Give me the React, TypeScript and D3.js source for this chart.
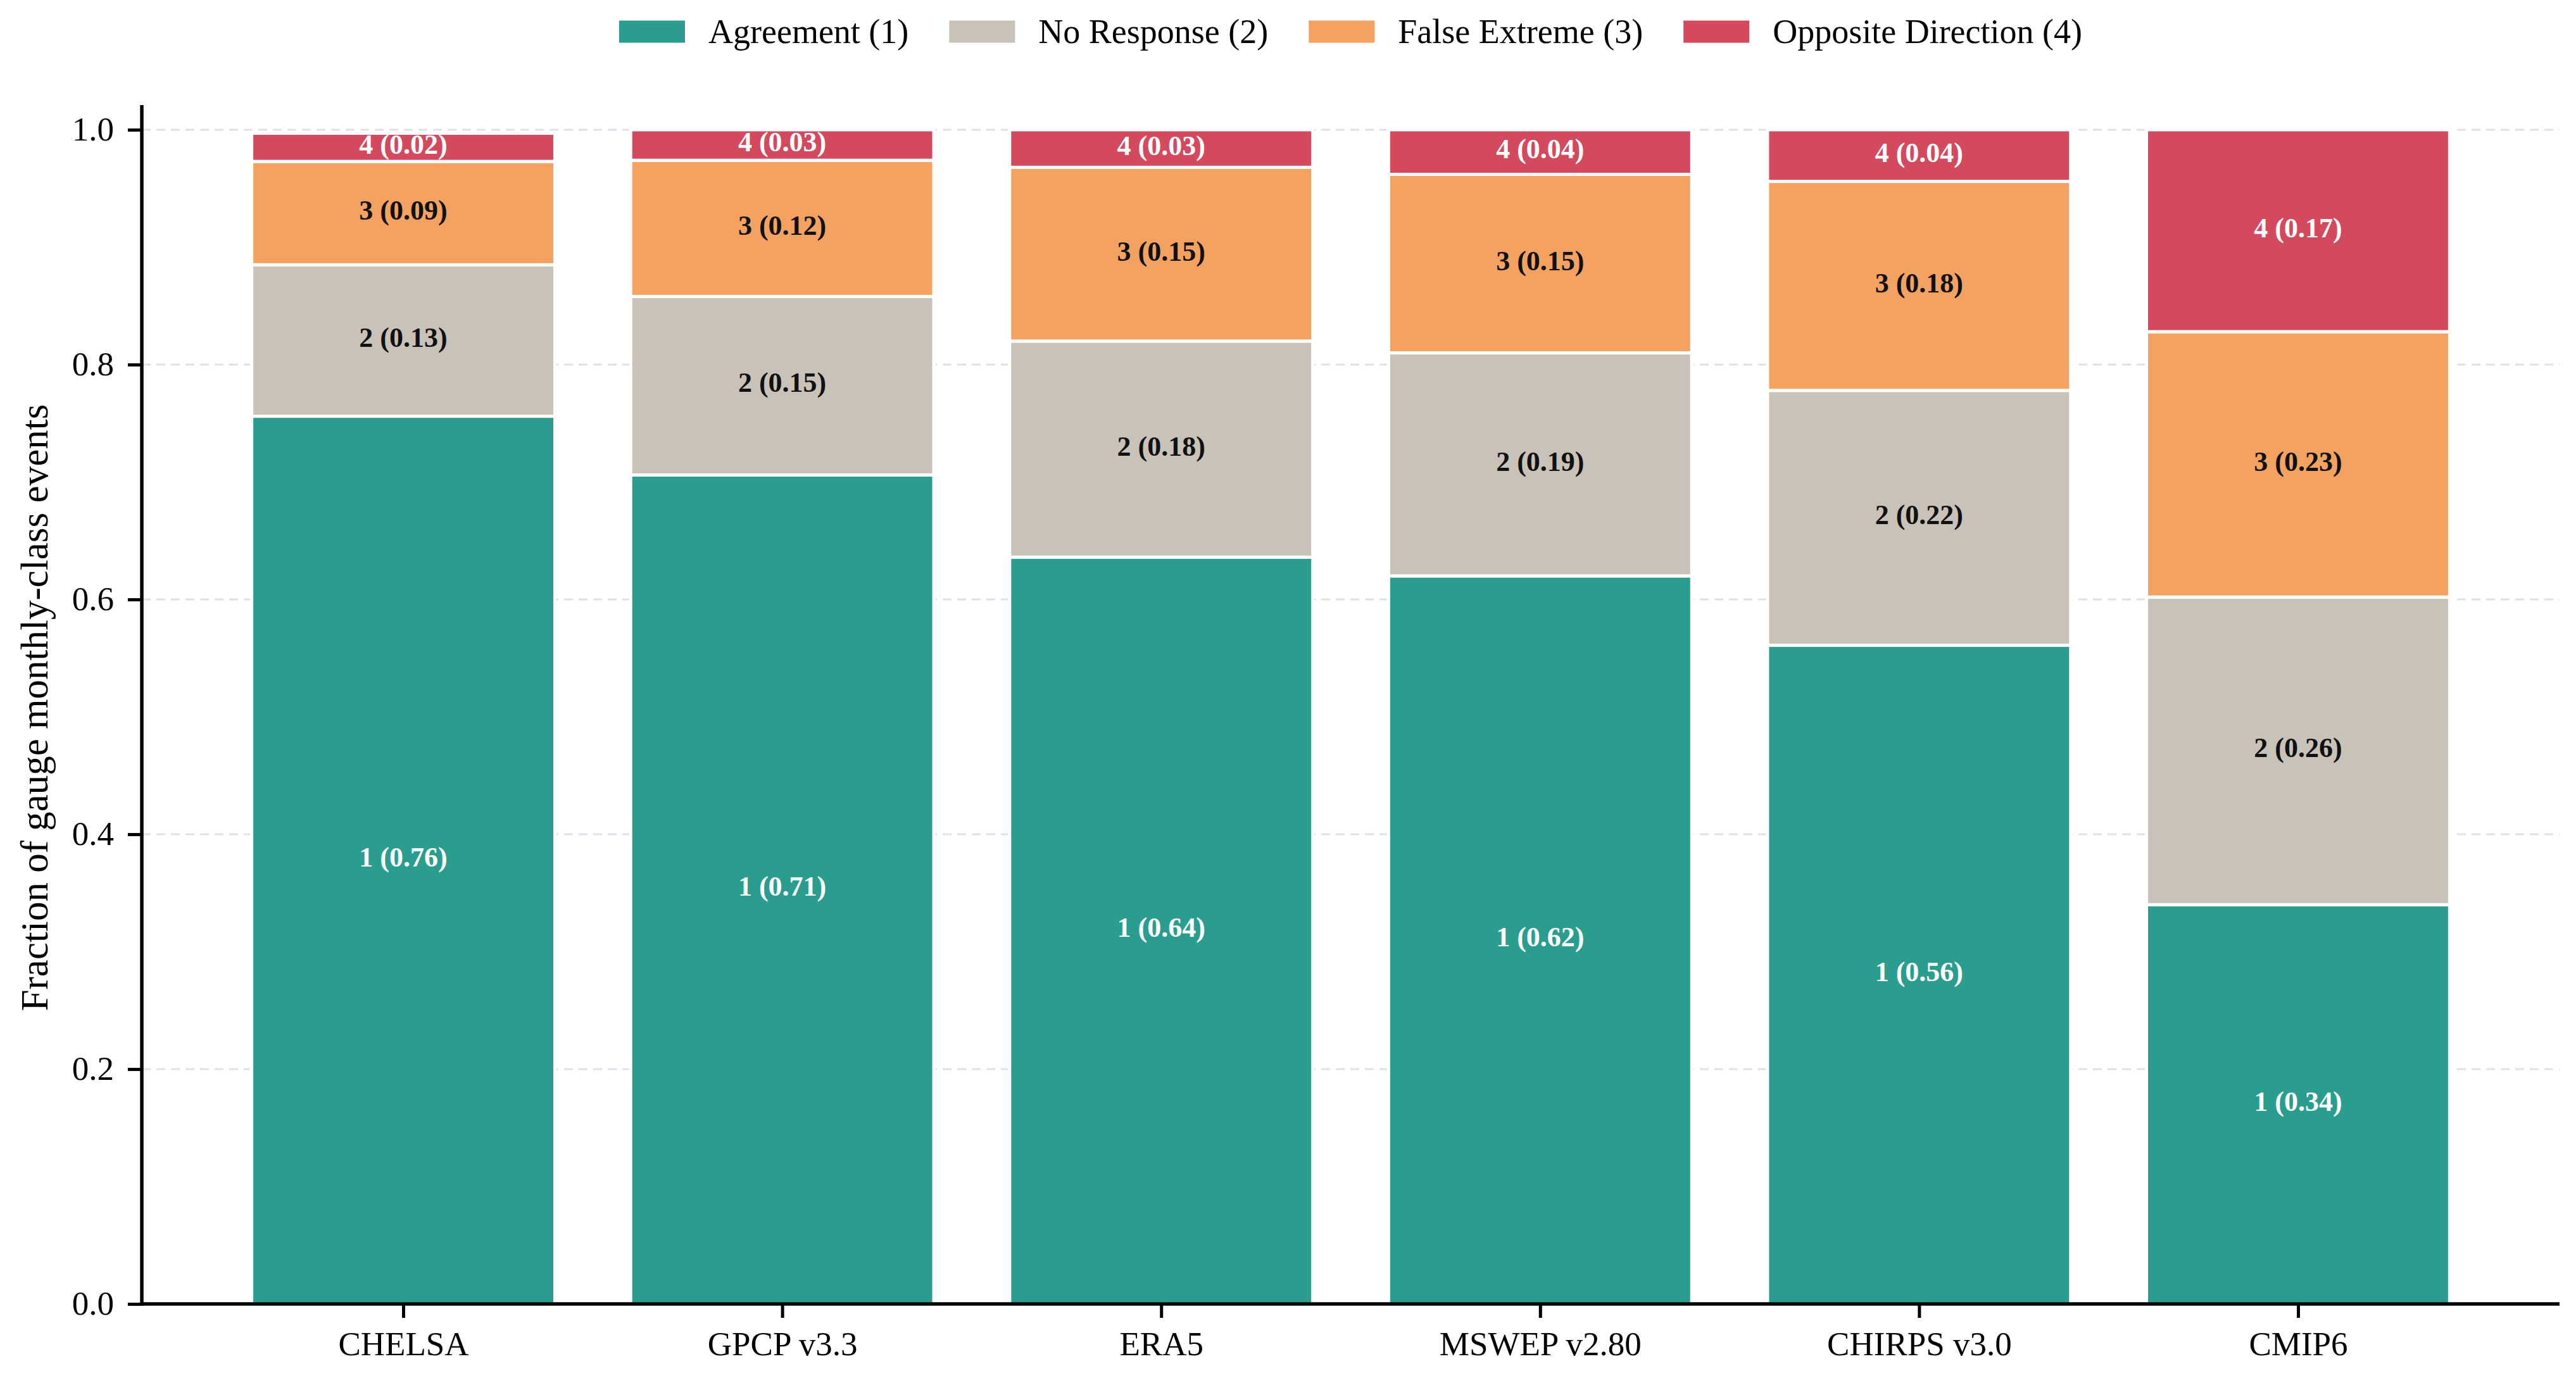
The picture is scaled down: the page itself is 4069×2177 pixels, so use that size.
import React, { useEffect, useRef } from "react";
import * as d3 from "d3";

// values
const datasets = ["CHELSA", "GPCP v3.3", "ERA5", "MSWEP v2.80", "CHIRPS v3.0", "CMIP6"];
const agreement = [0.756, 0.706, 0.636, 0.62, 0.561, 0.34];
const noResponse = [0.129, 0.152, 0.184, 0.19, 0.217, 0.262];
const falseExtreme = [0.088, 0.116, 0.148, 0.152, 0.178, 0.226];
const oppositeDirection = [0.024, 0.026, 0.032, 0.038, 0.044, 0.172];
const classNames = ["Agreement (1)", "No Response (2)", "False Extreme (3)", "Opposite Direction (4)"];
const classColors = ["#2a9d8f", "#c9c2b8", "#f3a261", "#d3495d"];
const labelColors = ["#ffffff", "#111111", "#111111", "#ffffff"];
const yTicks = [0, 0.2, 0.4, 0.6, 0.8, 1.0];

const FONT = "'Liberation Serif', 'Times New Roman', Times, serif";

const App: React.FC = () => {
  const svgRef = useRef<SVGSVGElement | null>(null);

  useEffect(() => {
    const width = 4069;
    const height = 2177;
    const plot = { left: 224, right: 4043, top: 166, bottom: 2060 };

    const series = [agreement, noResponse, falseExtreme, oppositeDirection];

    const x = d3.scaleLinear().domain([-0.69, 5.69]).range([plot.left, plot.right]);
    const y = d3.scaleLinear().domain([0, 1.021]).range([plot.bottom, plot.top]);
    const barW = x(0.8) - x(0);

    const svg = d3
      .select(svgRef.current)
      .attr("width", width)
      .attr("height", height)
      .attr("viewBox", `0 0 ${width} ${height}`)
      .style("font-family", FONT);

    svg.selectAll("*").remove();
    svg.append("rect").attr("width", width).attr("height", height).attr("fill", "#fff");

    // dashed horizontal grid
    svg
      .append("g")
      .selectAll("line")
      .data(yTicks)
      .join("line")
      .attr("x1", plot.left)
      .attr("x2", plot.right)
      .attr("y1", (d) => y(d))
      .attr("y2", (d) => y(d))
      .attr("stroke", "#dde1e8")
      .attr("stroke-width", 3)
      .attr("stroke-dasharray", "14,9");

    // stacked segments
    const segments: { i: number; k: number; y0: number; y1: number; v: number }[] = [];
    datasets.forEach((_, i) => {
      let acc = 0;
      series.forEach((s, k) => {
        segments.push({ i, k, y0: acc, y1: acc + s[i], v: s[i] });
        acc += s[i];
      });
    });

    svg
      .append("g")
      .selectAll("rect")
      .data(segments)
      .join("rect")
      .attr("x", (d) => x(d.i) - barW / 2)
      .attr("width", barW)
      .attr("y", (d) => y(d.y1))
      .attr("height", (d) => y(d.y0) - y(d.y1))
      .attr("fill", (d) => classColors[d.k])
      .attr("stroke", "#fff")
      .attr("stroke-width", 5);

    const fmt = d3.format(".2f");
    svg
      .append("g")
      .selectAll("text")
      .data(segments)
      .join("text")
      .attr("x", (d) => x(d.i))
      .attr("y", (d) => y((d.y0 + d.y1) / 2))
      .attr("dy", "-0.1em")
      .attr("text-anchor", "middle")
      .attr("dominant-baseline", "central")
      .attr("font-size", 44)
      .attr("font-weight", "bold")
      .attr("fill", (d) => labelColors[d.k])
      .text((d) => `${d.k + 1} (${fmt(d.v)})`);

    // y axis
    const yAxis = svg
      .append("g")
      .attr("transform", `translate(${plot.left},0)`)
      .call(
        d3
          .axisLeft(y)
          .tickValues(yTicks)
          .tickFormat(d3.format(".1f"))
          .tickSize(22)
          .tickPadding(22)
      );
    yAxis.select(".domain").remove();
    yAxis.selectAll(".tick line").attr("stroke", "#000").attr("stroke-width", 5);
    yAxis
      .selectAll(".tick text")
      .attr("font-size", 53)
      .attr("font-family", FONT)
      .attr("fill", "#000");

    // x axis
    const xAxis = svg
      .append("g")
      .attr("transform", `translate(0,${plot.bottom})`)
      .call(
        d3
          .axisBottom(x)
          .tickValues(datasets.map((_, i) => i))
          .tickFormat((d) => datasets[d as number])
          .tickSize(22)
          .tickPadding(21)
      );
    xAxis.select(".domain").remove();
    xAxis.selectAll(".tick line").attr("stroke", "#000").attr("stroke-width", 5);
    xAxis
      .selectAll(".tick text")
      .attr("font-size", 53)
      .attr("font-family", FONT)
      .attr("fill", "#000");

    // spines
    svg
      .append("line")
      .attr("x1", plot.left)
      .attr("x2", plot.left)
      .attr("y1", plot.top)
      .attr("y2", plot.bottom + 2.75)
      .attr("stroke", "#000")
      .attr("stroke-width", 5.5);
    svg
      .append("line")
      .attr("x1", plot.left - 2.75)
      .attr("x2", plot.right)
      .attr("y1", plot.bottom)
      .attr("y2", plot.bottom)
      .attr("stroke", "#000")
      .attr("stroke-width", 5.5);

    // y label
    svg
      .append("text")
      .attr("transform", `translate(75,1118) rotate(-90)`)
      .attr("text-anchor", "middle")
      .attr("font-size", 61)
      .attr("fill", "#000")
      .text("Fraction of gauge monthly-class events");

    // legend, centred over the axes
    const patchW = 104;
    const patchH = 35;
    const textGap = 37;
    const colGap = 64;
    const legend = svg.append("g");
    const items = classNames.map((name, k) => {
      const g = legend.append("g");
      g.append("rect")
        .attr("y", 50 - patchH / 2)
        .attr("width", patchW)
        .attr("height", patchH)
        .attr("fill", classColors[k]);
      const t = g
        .append("text")
        .attr("x", patchW + textGap)
        .attr("y", 50)
        .attr("dominant-baseline", "central")
        .attr("font-size", 54)
        .attr("fill", "#000")
        .text(name);
      const tw = (t.node() as SVGTextElement).getComputedTextLength();
      return { g, w: patchW + textGap + tw };
    });
    const total = d3.sum(items, (d) => d.w) + colGap * (items.length - 1);
    let cx = (plot.left + plot.right) / 2 - total / 2;
    items.forEach((it) => {
      it.g.attr("transform", `translate(${cx},0)`);
      cx += it.w + colGap;
    });
  }, []);

  return (
    <svg
      ref={svgRef}
      style={{ position: "absolute", left: 0, top: 0, display: "block" }}
    />
  );
};

export default App;
